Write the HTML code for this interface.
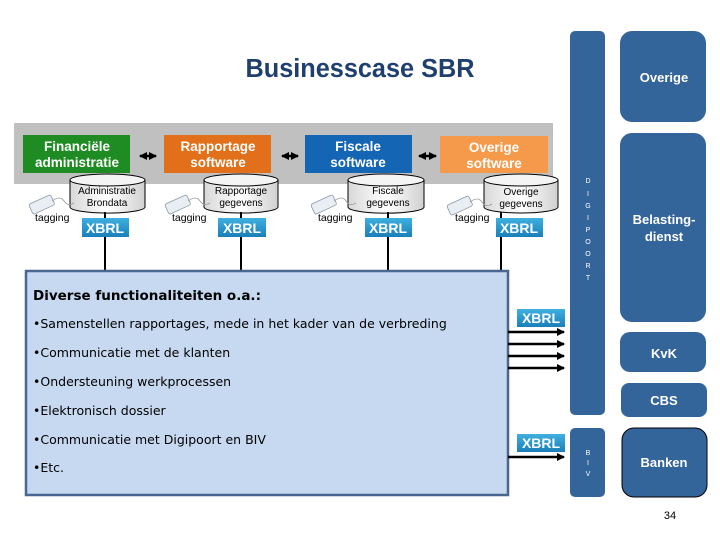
<!DOCTYPE html>
<html><head><meta charset="utf-8"><style>
html,body{margin:0;padding:0;background:#fff;width:720px;height:540px;overflow:hidden}
svg{display:block;font-family:"Liberation Sans",sans-serif}
</style></head><body>
<svg width="720" height="540" viewBox="0 0 720 540" xmlns="http://www.w3.org/2000/svg">
<defs>
<marker id="ah" markerWidth="8" markerHeight="8" refX="7" refY="4" orient="auto" markerUnits="userSpaceOnUse"><path d="M0,0 L8,4 L0,8z" fill="#000"/></marker>
<marker id="as" markerWidth="8" markerHeight="8" refX="1" refY="4" orient="auto" markerUnits="userSpaceOnUse"><path d="M8,0 L0,4 L8,8z" fill="#000"/></marker>
<linearGradient id="xg" x1="0" y1="0" x2="0" y2="1"><stop offset="0" stop-color="#3fb0e0"/><stop offset="1" stop-color="#1a7fb8"/></linearGradient>
<linearGradient id="cg" x1="0" y1="0" x2="1" y2="0"><stop offset="0" stop-color="#d8d8d8"/><stop offset="0.5" stop-color="#fff"/><stop offset="1" stop-color="#d0d0d0"/></linearGradient>
<g id="tag"><rect x="0" y="0" width="24" height="11" rx="2" fill="#e8eef4" stroke="#8a9aaa" stroke-width="0.8" transform="rotate(-25 12 6)"/><path d="M22,2 q8,-6 12,0 q4,6 10,2" fill="none" stroke="#999" stroke-width="0.8"/></g>
</defs>
<text x="360" y="77" text-anchor="middle" font-size="25.5" font-weight="bold" fill="#1f3f6e" textLength="229" lengthAdjust="spacingAndGlyphs">Businesscase SBR</text>

<rect x="14" y="123" width="539" height="61" fill="#c0c0c0"/>
<rect x="23" y="135" width="107" height="38" fill="#1e8c22"/>
<rect x="164" y="135" width="107" height="38" fill="#e2701a"/>
<rect x="305" y="135" width="107" height="38" fill="#1565b5"/>
<rect x="440" y="136" width="108" height="37" fill="#f59a4a"/>
<g font-size="13.5" font-weight="bold" fill="#fff" text-anchor="middle">
<text x="77" y="151">Financiële</text><text x="77" y="167">administratie</text>
<text x="218" y="151">Rapportage</text><text x="218" y="167">software</text>
<text x="358" y="151">Fiscale</text><text x="358" y="167">software</text>
<text x="494" y="152">Overige</text><text x="494" y="168">software</text>
</g>
<g stroke="#000" stroke-width="2.5" marker-end="url(#ah)" marker-start="url(#as)">
<line x1="140" y1="156" x2="156" y2="156"/><line x1="282" y1="156" x2="298" y2="156"/><line x1="419" y1="156" x2="436" y2="156"/>
</g>
<g stroke="#000" stroke-width="1">
<path d="M70,180 v27 a37,6 0 0 0 75,0 v-27" fill="url(#cg)"/><ellipse cx="107.5" cy="180" rx="37.5" ry="6" fill="#f4f4f4"/>
<path d="M204,180 v27 a37,6 0 0 0 74,0 v-27" fill="url(#cg)"/><ellipse cx="241" cy="180" rx="37" ry="6" fill="#f4f4f4"/>
<path d="M348,180 v27 a37,6 0 0 0 76,0 v-27" fill="url(#cg)"/><ellipse cx="386" cy="180" rx="38" ry="6" fill="#f4f4f4"/>
<path d="M484,180 v27 a37,6 0 0 0 74,0 v-27" fill="url(#cg)"/><ellipse cx="521" cy="180" rx="37" ry="6" fill="#f4f4f4"/>
</g>
<g font-size="10" fill="#000" text-anchor="middle">
<text x="107" y="194">Administratie</text><text x="107" y="206">Brondata</text>
<text x="241" y="194">Rapportage</text><text x="241" y="206">gegevens</text>
<text x="388" y="194">Fiscale</text><text x="388" y="206">gegevens</text>
<text x="521" y="195">Overige</text><text x="521" y="207">gegevens</text>
</g>
<g font-size="10.5" fill="#000">
<text x="35" y="221">tagging</text><text x="172" y="221">tagging</text><text x="318" y="221">tagging</text><text x="455" y="221">tagging</text>
</g>
<use href="#tag" x="30" y="199"/><use href="#tag" x="166" y="199"/><use href="#tag" x="312" y="199"/><use href="#tag" x="448" y="200"/>
<g stroke="#000" stroke-width="2">
<line x1="105" y1="212" x2="105" y2="271"/><line x1="241" y1="212" x2="241" y2="271"/><line x1="388" y1="212" x2="388" y2="271"/><line x1="501" y1="212" x2="501" y2="271"/>
</g>
<g fill="url(#xg)"><rect x="82" y="218" width="47" height="19"/><rect x="218" y="218" width="48" height="19"/><rect x="365" y="218" width="47" height="19"/><rect x="496" y="218" width="47" height="19"/>
<rect x="517" y="309" width="48" height="18"/><rect x="517" y="434" width="48" height="18"/></g>
<g font-size="14" font-weight="bold" fill="#fff" text-anchor="middle">
<text x="105" y="233">XBRL</text><text x="242" y="233">XBRL</text><text x="388" y="233">XBRL</text><text x="519" y="233">XBRL</text>
<text x="541" y="323">XBRL</text><text x="541" y="448">XBRL</text>
</g>

<rect x="26" y="271" width="482" height="224" fill="#c6d9f1" stroke="#4a6790" stroke-width="2.5"/>
<g font-family="'DejaVu Sans',sans-serif" fill="#000" font-size="12.5">
<text x="33" y="300" font-weight="bold" font-size="13.5">Diverse functionaliteiten o.a.:</text>
<text x="33" y="328">•Samenstellen rapportages, mede in het kader van de verbreding</text>
<text x="33" y="357">•Communicatie met de klanten</text>
<text x="33" y="386">•Ondersteuning werkprocessen</text>
<text x="33" y="415">•Elektronisch dossier</text>
<text x="33" y="444">•Communicatie met Digipoort en BIV</text>
<text x="33" y="472">•Etc.</text>
</g>
<g stroke="#000" stroke-width="2.5" marker-end="url(#ah)">
<line x1="508" y1="332" x2="564" y2="332"/><line x1="508" y1="344" x2="564" y2="344"/><line x1="508" y1="356" x2="564" y2="356"/><line x1="508" y1="368" x2="564" y2="368"/><line x1="508" y1="457" x2="564" y2="457"/>
</g>

<g fill="#34659a">
<rect x="570" y="31" width="35" height="384" rx="5"/>
<rect x="570" y="428" width="35" height="69" rx="5"/>
<rect x="620" y="31" width="86" height="91" rx="12"/>
<rect x="620" y="133" width="86" height="189" rx="12"/>
<rect x="620" y="332" width="86" height="40" rx="10"/>
<rect x="621" y="383" width="86" height="34" rx="8"/>
<rect x="622" y="428" width="85" height="69" rx="12" stroke="#000" stroke-width="1"/>
</g>
<g font-size="7" fill="#fff" text-anchor="middle">
<text x="588" y="183">D</text><text x="588" y="196">I</text><text x="588" y="208">G</text><text x="588" y="220">I</text><text x="588" y="232">P</text><text x="588" y="244">O</text><text x="588" y="256">O</text><text x="588" y="268">R</text><text x="588" y="280">T</text>
<text x="588" y="455">B</text><text x="588" y="465">I</text><text x="588" y="476">V</text>
</g>
<g font-size="13" font-weight="bold" fill="#fff" text-anchor="middle">
<text x="664" y="82">Overige</text>
<text x="664" y="224">Belasting-</text><text x="664" y="241">dienst</text>
<text x="664" y="358">KvK</text>
<text x="664" y="405">CBS</text>
<text x="664" y="467">Banken</text>
</g>
<text x="670" y="519" font-size="11" fill="#000" text-anchor="middle">34</text>
</svg>
</body></html>
